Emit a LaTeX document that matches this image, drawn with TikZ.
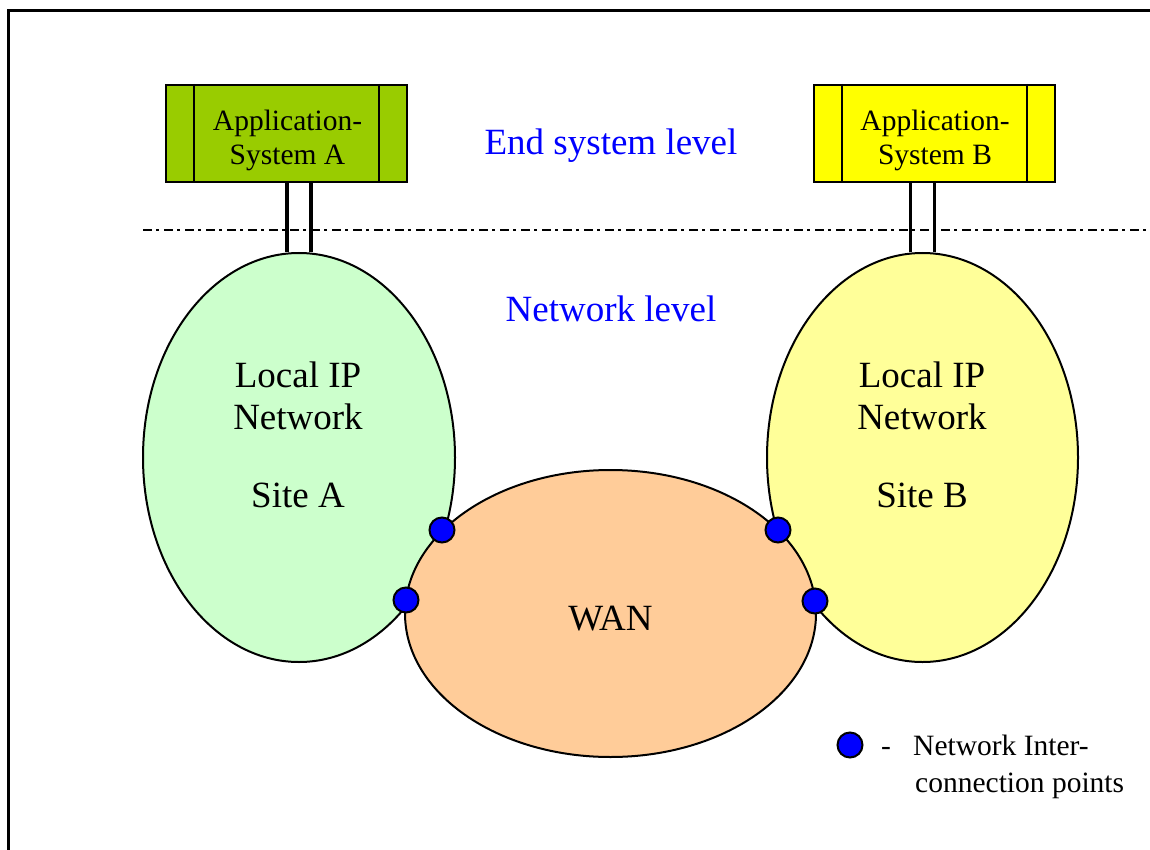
\documentclass[tikz,border=0pt]{standalone}
\usepackage{fontspec}
\setmainfont{Liberation Serif}
\usetikzlibrary{shapes.geometric}
\definecolor{appgreen}{RGB}{153,204,0}
\definecolor{appyellow}{RGB}{255,255,0}
\definecolor{lanA}{RGB}{204,255,204}
\definecolor{lanB}{RGB}{255,255,153}
\definecolor{wanfill}{RGB}{255,204,153}
\definecolor{lvlblue}{RGB}{0,0,255}
\begin{document}
\begin{tikzpicture}[x=1pt,y=-1pt,
  appbox/.style={draw, line width=2.2pt, minimum width=241pt, minimum height=97pt, inner sep=0pt},
  bigtxt/.style={font=\fontsize{37}{42}\selectfont, inner sep=0pt, anchor=base},
  smalltxt/.style={font=\fontsize{29.5}{34}\selectfont, inner sep=0pt, anchor=base},
  net/.style={ellipse, draw, line width=2pt, inner sep=0pt},
  ipt/.style={circle, draw, fill=blue, line width=2pt, minimum size=25pt, inner sep=0pt},
  stem/.style={line width=3.5pt},
  levelline/.style={line width=2pt, dash pattern=on 9pt off 4pt on 3pt off 5pt}]
\useasboundingbox (0,0) rectangle (1150,850);
% frame
\coordinate (fbl) at (8,850);
\coordinate (ftl) at (8,11);
\coordinate (ftr) at (1150,11);
\draw[line width=3pt] (fbl) -- (ftl) -- (ftr);
% level separator
\coordinate (lvlL) at (143,230);
\coordinate (lvlR) at (1150,230);
\draw[levelline] (lvlL) -- (lvlR);
% networks
\node[net, fill=lanA, minimum width=312pt, minimum height=409pt] (elA) at (299,457.5) {};
\node[net, fill=lanB, minimum width=311pt, minimum height=409pt] (elB) at (922.5,457.5) {};
\node[net, fill=wanfill, minimum width=411pt, minimum height=287pt] (wan) at (610.5,613.5) {};
% application boxes
\node[appbox, fill=appgreen] (appA) at (286.5,133.5) {};
\node[appbox, fill=appyellow] (appB) at (934.5,133.5) {};
\foreach \b in {appA,appB}{
  \draw[line width=2pt] ([xshift=29pt]\b.north west) -- ([xshift=29pt]\b.south west);
  \draw[line width=2pt] ([xshift=-29pt]\b.north east) -- ([xshift=-29pt]\b.south east);
}
% stems
\draw[stem] ([xshift=-12pt]elA.north) -- ([xshift=-12pt]elA.north |- appA.south);
\draw[stem] ([xshift=12pt]elA.north) -- ([xshift=12pt]elA.north |- appA.south);
\draw[stem] ([xshift=-12pt]elB.north) -- ([xshift=-12pt]elB.north |- appB.south);
\draw[stem] ([xshift=12pt]elB.north) -- ([xshift=12pt]elB.north |- appB.south);
% texts
\node[smalltxt] (tA1) at (287.5,131) {Application-};
\node[smalltxt] (tA2) at (287.5,165) {System A};
\node[smalltxt] (tB1) at (935,131) {Application-};
\node[smalltxt] (tB2) at (935,165) {System B};
\node[bigtxt, text=lvlblue] (endlvl) at (611,155) {End system level};
\node[bigtxt, text=lvlblue] (netlvl) at (611,321) {Network level};
\node[bigtxt] (lA1) at (298,387) {Local IP};
\node[bigtxt] (lA2) at (298,429) {Network};
\node[bigtxt] (lA3) at (298,507) {Site A};
\node[bigtxt] (lB1) at (922,387) {Local IP};
\node[bigtxt] (lB2) at (922,429) {Network};
\node[bigtxt] (lB3) at (922,507) {Site B};
\node[bigtxt] (wanlbl) at (610.5,630) {WAN};
% interconnection points
\node[ipt] (p1) at (442,530) {};
\node[ipt] (p2) at (406,600) {};
\node[ipt] (p3) at (778,530) {};
\node[ipt] (p4) at (815,601) {};
% legend
\node[ipt] (leg) at (850,745) {};
\node[smalltxt] (legdash) at (886,755) {-};
\node[smalltxt, anchor=base west] (leg1) at (913,755) {Network Inter-};
\node[smalltxt, anchor=base west] (leg2) at (915,792) {connection points};
\end{tikzpicture}
\end{document}
